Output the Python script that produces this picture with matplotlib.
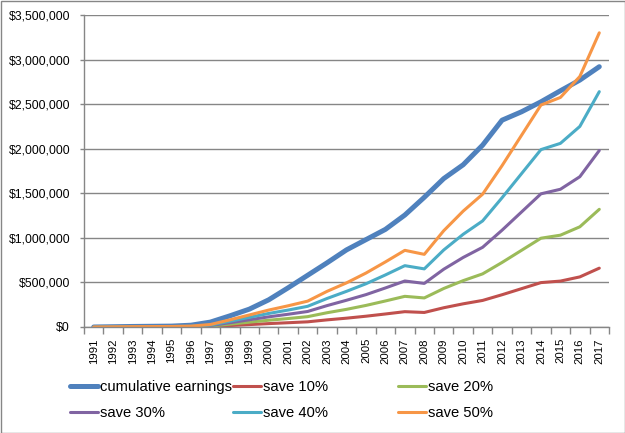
import matplotlib
matplotlib.use("Agg")
import matplotlib.pyplot as plt
from matplotlib.ticker import FuncFormatter, FixedLocator
from matplotlib.patches import Rectangle
import numpy as np

plt.rcParams['font.family'] = ['Liberation Sans', 'DejaVu Sans']

years = [str(y) for y in range(1991, 2018)]

cumulative = [0, 3e3, 6e3, 8e3, 10e3, 20e3, 55e3, 125e3, 200e3, 305e3, 440e3, 580e3, 720e3,
              865e3, 980e3, 1.095e6, 1.256e6, 1.455e6, 1.665e6, 1.82e6, 2.04e6, 2.32e6,
              2.414e6, 2.526e6, 2.65e6, 2.77e6, 2.92e6]
save10 = [0, 0.4e3, 0.8e3, 1e3, 1.2e3, 2e3, 5.6e3, 16e3, 27e3, 38e3, 48e3, 58e3, 80e3,
          99e3, 121e3, 146e3, 172e3, 163e3, 216e3, 260e3, 298e3, 362e3, 430e3, 498e3,
          515e3, 562e3, 660e3]
save20 = [0, 0.8e3, 1.6e3, 2e3, 2.4e3, 4e3, 11e3, 32e3, 54e3, 76e3, 95e3, 116e3, 160e3,
          198e3, 242e3, 292e3, 344e3, 326e3, 432e3, 520e3, 596e3, 724e3, 860e3, 996e3,
          1.03e6, 1.124e6, 1.32e6]
save30 = [0, 1e3, 2e3, 3e3, 4e3, 6e3, 17e3, 48e3, 81e3, 114e3, 143e3, 174e3, 240e3,
          300e3, 363e3, 438e3, 516e3, 489e3, 648e3, 780e3, 894e3, 1.086e6, 1.29e6,
          1.494e6, 1.545e6, 1.686e6, 1.98e6]
save40 = [0, 1.5e3, 3e3, 4e3, 5e3, 8e3, 22e3, 64e3, 108e3, 152e3, 190e3, 232e3, 320e3,
          400e3, 485e3, 584e3, 688e3, 652e3, 864e3, 1.04e6, 1.19e6, 1.45e6, 1.72e6,
          1.99e6, 2.06e6, 2.25e6, 2.64e6]
save50 = [0, 2e3, 4e3, 5e3, 6e3, 10e3, 28e3, 80e3, 135e3, 190e3, 238e3, 290e3, 400e3,
          495e3, 605e3, 730e3, 860e3, 815e3, 1.08e6, 1.30e6, 1.49e6, 1.81e6, 2.15e6,
          2.49e6, 2.575e6, 2.81e6, 3.30e6]

series_names = ['cumulative earnings', 'save 10%', 'save 20%', 'save 30%', 'save 40%', 'save 50%']
series_vals = [cumulative, save10, save20, save30, save40, save50]
colors = ['#4F81BD', '#C0504D', '#9BBB59', '#8064A2', '#4BACC6', '#F79646']
widths = [3.6, 2.2, 2.2, 2.2, 2.2, 2.2]

fig = plt.figure(figsize=(6.25, 4.33), dpi=100)
ax = fig.add_axes([84/625, 1-327/433, (609-84)/625, (327-15)/433])

x = np.arange(len(years))
lines = []
for name, vals, c, w in zip(series_names, series_vals, colors, widths):
    ln, = ax.plot(x, vals, color=c, lw=w, label=name, solid_capstyle='round', solid_joinstyle='round')
    lines.append(ln)

ax.set_xlim(-0.5, len(years) - 0.5)
ax.set_ylim(0, 3.5e6)
ax.set_yticks(np.arange(0, 3.5e6 + 1, 5e5))
ax.yaxis.set_major_formatter(FuncFormatter(lambda v, p: '${:,.0f}'.format(v)))
ax.grid(axis='y', color='#868686', lw=1)
ax.set_axisbelow(True)

ax.set_xticks(x)
ax.set_xticklabels(years, rotation=90, fontsize=8.2)
ax.xaxis.set_minor_locator(FixedLocator(np.arange(-0.5, len(years), 1)))
ax.tick_params(axis='x', which='major', length=0, pad=8)
ax.tick_params(axis='x', which='minor', length=5, color='#868686', width=1)
ax.tick_params(axis='y', length=3, color='#868686', width=1, labelsize=8.8, pad=7)

for s in ['top', 'right']:
    ax.spines[s].set_visible(False)
for s in ['left', 'bottom']:
    ax.spines[s].set_color('#868686')
    ax.spines[s].set_linewidth(1)

# legend: three columns of two entries each
col_x = [70/625, 233/625, 398/625]
for ci in range(3):
    hs = [lines[ci], lines[ci + 3]]
    fig.legend(hs, [h.get_label() for h in hs], loc='upper left',
               bbox_to_anchor=(col_x[ci], 1 - 380/433), frameon=False,
               fontsize=10.6, handlelength=1.9, handletextpad=0.14,
               labelspacing=0.8, borderaxespad=0, borderpad=0)

fig.patches.append(Rectangle((0.5/625, 0.5/433), 1 - 1/625, 1 - 1/433, transform=fig.transFigure,
                             fill=False, edgecolor='#868686', lw=1))

fig.savefig('out.png', dpi=100)
